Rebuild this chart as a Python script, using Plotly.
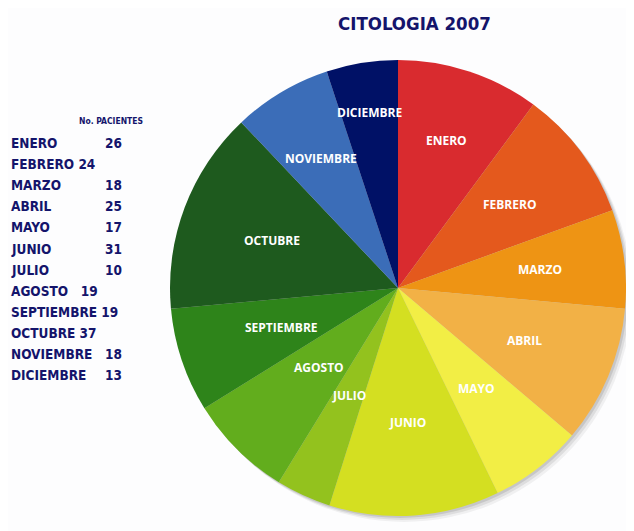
import math
import plotly.graph_objects as go

months = ["ENERO", "FEBRERO", "MARZO", "ABRIL", "MAYO", "JUNIO", "JULIO",
          "AGOSTO", "SEPTIEMBRE", "OCTUBRE", "NOVIEMBRE", "DICIEMBRE"]
patients = [26, 24, 18, 25, 17, 31, 10, 19, 19, 37, 18, 13]
colors = ["#D92B2F", "#E4591D", "#EE9414", "#F2B146", "#F2EE45", "#D4DF21",
          "#93C21E", "#62AD1D", "#2E841A", "#1E5A1E", "#3B6DB8", "#001166"]
# styling: radial position of each slice label, as a fraction of the radius
label_radius = [0.68, 0.61, 0.63, 0.60, 0.56, 0.59, 0.52, 0.49, 0.54, 0.59, 0.66, 0.78]
# styling: rows of the left table whose number follows the name directly, with the gap used
inline_gap = {"FEBRERO": "&nbsp;", "AGOSTO": "&nbsp;&nbsp;&nbsp;", "SEPTIEMBRE": "&nbsp;",
              "OCTUBRE": "&nbsp;"}

# the page body adds an 8px margin, so the figure is laid out 8px smaller
OFF = 8
W, H = 634 - OFF, 531 - OFF
cx, cy, r = 398 - OFF, 288 - OFF, 228
NAVY = "#14146B"
TFONT = "DejaVu Sans Condensed, DejaVu Sans, sans-serif"

def px(x):
    return (x - OFF) / W

def py(y):
    return 1 - (y - OFF) / H

def cond(s):
    return f"<span style='font-stretch:condensed'><b>{s}</b></span>"

fig = go.Figure()
fig.add_trace(go.Pie(
    labels=months, values=patients, sort=False, direction="clockwise", rotation=0,
    marker=dict(colors=colors, line=dict(width=0)),
    textinfo="none",
    hoverinfo="label+value+percent", showlegend=False,
    domain=dict(x=[(cx - r) / W, (cx + r) / W], y=[(H - cy - r) / H, (H - cy + r) / H]),
))

# soft drop shadow behind the pie
for off, a in [(6, 0.05), (4, 0.08), (2, 0.10)]:
    fig.add_shape(type="circle", xref="paper", yref="paper", layer="below",
                  x0=(cx - r + off) / W, x1=(cx + r + off) / W,
                  y0=(H - cy - r - off) / H, y1=(H - cy + r - off) / H,
                  fillcolor=f"rgba(0,0,0,{a})", line=dict(width=0))

ann = []
# slice labels at each slice's mid angle (clockwise from 12 o'clock)
total = sum(patients)
cum = 0
for m, v, rf in zip(months, patients, label_radius):
    theta = (cum + v / 2) / total * 2 * math.pi
    cum += v
    lx = cx + rf * r * math.sin(theta)
    ly = cy - rf * r * math.cos(theta)
    ann.append(dict(text=f"<b>{m}</b>", x=lx / W, y=1 - ly / H, xref="paper", yref="paper",
                    showarrow=False, xanchor="center", yanchor="middle",
                    font=dict(size=12, color="white", family="Open Sans")))

ann.append(dict(text=cond("CITOLOGIA 2007"), x=px(414), y=py(24), xref="paper", yref="paper",
                showarrow=False, xanchor="center", yanchor="middle",
                font=dict(size=18.5, color=NAVY, family=TFONT)))
ann.append(dict(text=cond("No. PACIENTES"), x=px(77), y=py(121), xref="paper", yref="paper",
                showarrow=False, xanchor="left", yanchor="middle",
                font=dict(size=8.5, color=NAVY, family=TFONT)))
y0, dy = 143, 21.1
for i, (m, v) in enumerate(zip(months, patients)):
    yy = py(y0 + i * dy)
    f = dict(size=13.5, color=NAVY, family=TFONT)
    if m in inline_gap:
        ann.append(dict(text=cond(f"{m}{inline_gap[m]}{v}"), x=px(9), y=yy, xref="paper",
                        yref="paper", showarrow=False, xanchor="left", yanchor="middle", font=f))
    else:
        ann.append(dict(text=cond(m), x=px(9), y=yy, xref="paper", yref="paper",
                        showarrow=False, xanchor="left", yanchor="middle", font=f))
        ann.append(dict(text=cond(v), x=px(103), y=yy, xref="paper", yref="paper",
                        showarrow=False, xanchor="left", yanchor="middle", font=f))

fig.update_layout(
    width=W, height=H, margin=dict(l=0, r=0, t=0, b=0),
    paper_bgcolor="#FDFDFE", plot_bgcolor="#FDFDFE",
    annotations=ann,
)
fig.write_html("out.html")
